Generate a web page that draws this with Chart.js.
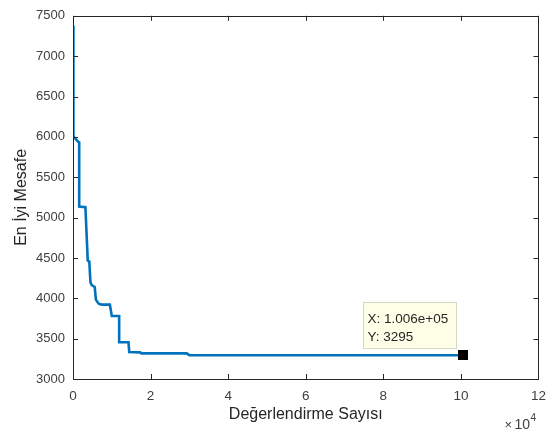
<!DOCTYPE html>
<html>
<head>
<meta charset="utf-8">
<script src="https://cdn.jsdelivr.net/npm/chart.js@4/dist/chart.umd.min.js"></script>
<style>
html,body{margin:0;padding:0;background:#fff;}
#wrap{width:555px;height:434px;}
</style>
</head>
<body>
<div id="wrap"><canvas id="c" width="555" height="434"></canvas></div>
<script>
// x values in units of 1e4 evaluations
const xValues = [0, 0.01, 0.12, 0.16, 0.16, 0.32, 0.38, 0.42, 0.45, 0.48, 0.56, 0.59, 0.63, 0.67, 0.74, 0.95, 1.0, 1.19, 1.19, 1.43, 1.45, 1.73, 1.76, 2.93, 3.0, 10.06];
const yValues = [7381, 6005, 5944, 5930, 5136, 5130, 4468, 4455, 4200, 4165, 4140, 3983, 3954, 3930, 3922, 3922, 3781, 3781, 3456, 3456, 3335, 3330, 3318, 3318, 3295, 3295];
const xTicks = [0, 2, 4, 6, 8, 10, 12];
const yTicks = [3000, 3500, 4000, 4500, 5000, 5500, 6000, 6500, 7000, 7500];
const tipX = 10.06, tipY = 3295;
const tipLines = ['X: 1.006e+05', 'Y: 3295'];
const xTitle = 'Değerlendirme Sayısı';
const yTitle = 'En İyi Mesafe';
const xExponent = '4';

const FONT = "'Liberation Sans', Arial, Helvetica, sans-serif";
const AXC = '#262626';

const points = xValues.map((x, i) => ({x: x, y: yValues[i]}));

const boxPlugin = {
  id: 'matlabBox',
  afterDraw(chart) {
    const ctx = chart.ctx;
    const a = chart.chartArea;
    const xs = chart.scales.x, ys = chart.scales.y;
    ctx.save();
    ctx.strokeStyle = AXC;
    ctx.lineWidth = 1;
    ctx.strokeRect(Math.round(a.left) + 0.5, Math.round(a.top) + 0.5, Math.round(a.right - a.left), Math.round(a.bottom - a.top));
    const tl = 5;
    ctx.beginPath();
    xTicks.forEach(v => {
      const px = Math.round(xs.getPixelForValue(v)) + 0.5;
      ctx.moveTo(px, a.bottom); ctx.lineTo(px, a.bottom - tl);
      ctx.moveTo(px, a.top); ctx.lineTo(px, a.top + tl);
    });
    yTicks.forEach(v => {
      const py = Math.round(ys.getPixelForValue(v)) + 0.5;
      ctx.moveTo(a.left, py); ctx.lineTo(a.left + tl, py);
      ctx.moveTo(a.right, py); ctx.lineTo(a.right - tl, py);
    });
    ctx.stroke();
    // exponent label
    ctx.fillStyle = '#404040';
    ctx.textBaseline = 'alphabetic';
    ctx.textAlign = 'left';
    ctx.font = '13px ' + FONT;
    const ex = a.right - 34, ey = 429;
    ctx.fillText('\u00d7', ex, ey);
    ctx.font = '14px ' + FONT;
    ctx.fillText('10', ex + 10, ey);
    ctx.font = '10px ' + FONT;
    ctx.fillText(xExponent, ex + 26, ey - 8);
    // data tip
    const mx = xs.getPixelForValue(tipX), my = ys.getPixelForValue(tipY);
    ctx.fillStyle = '#000';
    ctx.fillRect(Math.round(mx - 5), Math.round(my - 5), 10, 10);
    const bx = Math.round(mx - 100) + 0.5, by = Math.round(my - 53) + 0.5;
    ctx.fillStyle = '#ffffe8';
    ctx.fillRect(bx, by, 93, 46);
    ctx.strokeStyle = '#d8d8c8';
    ctx.strokeRect(bx, by, 93, 46);
    ctx.fillStyle = '#262626';
    ctx.font = '13.5px ' + FONT;
    ctx.textBaseline = 'middle';
    ctx.fillText(tipLines[0], bx + 4, by + 17);
    ctx.fillText(tipLines[1], bx + 4, by + 35);
    ctx.restore();
  }
};

new Chart(document.getElementById('c'), {
  type: 'line',
  data: {
    datasets: [{
      data: points,
      borderColor: '#0072BD',
      borderWidth: 2.6,
      pointRadius: 0,
      fill: false,
      tension: 0,
      borderJoinStyle: 'miter'
    }]
  },
  options: {
    responsive: false,
    animation: false,
    devicePixelRatio: 1,
    layout: {padding: {top: 8, right: 16, left: 0, bottom: 0}},
    plugins: {legend: {display: false}, tooltip: {enabled: false}},
    scales: {
      x: {
        type: 'linear', min: 0, max: 12,
        afterBuildTicks(s) { s.ticks = xTicks.map(v => ({value: v})); },
        afterFit(s) { s.height = 55; },
        grid: {display: false, drawTicks: false},
        border: {display: false},
        ticks: {padding: 9, color: '#404040', font: {family: FONT, size: 13.5}, maxRotation: 0, callback: v => String(v)},
        title: {display: true, text: xTitle, color: '#262626', font: {family: FONT, size: 16}, padding: {top: 0, bottom: 10}}
      },
      y: {
        type: 'linear', min: 3000, max: 7500,
        afterBuildTicks(s) { s.ticks = yTicks.map(v => ({value: v})); },
        afterFit(s) { s.width = 73; },
        grid: {display: false, drawTicks: false},
        border: {display: false},
        ticks: {padding: 8, color: '#404040', font: {family: FONT, size: 13}, callback: v => String(v)},
        title: {display: true, text: yTitle, color: '#262626', font: {family: FONT, size: 16}, padding: {top: 12, bottom: 0}}
      }
    }
  },
  plugins: [boxPlugin]
});
</script>
</body>
</html>
